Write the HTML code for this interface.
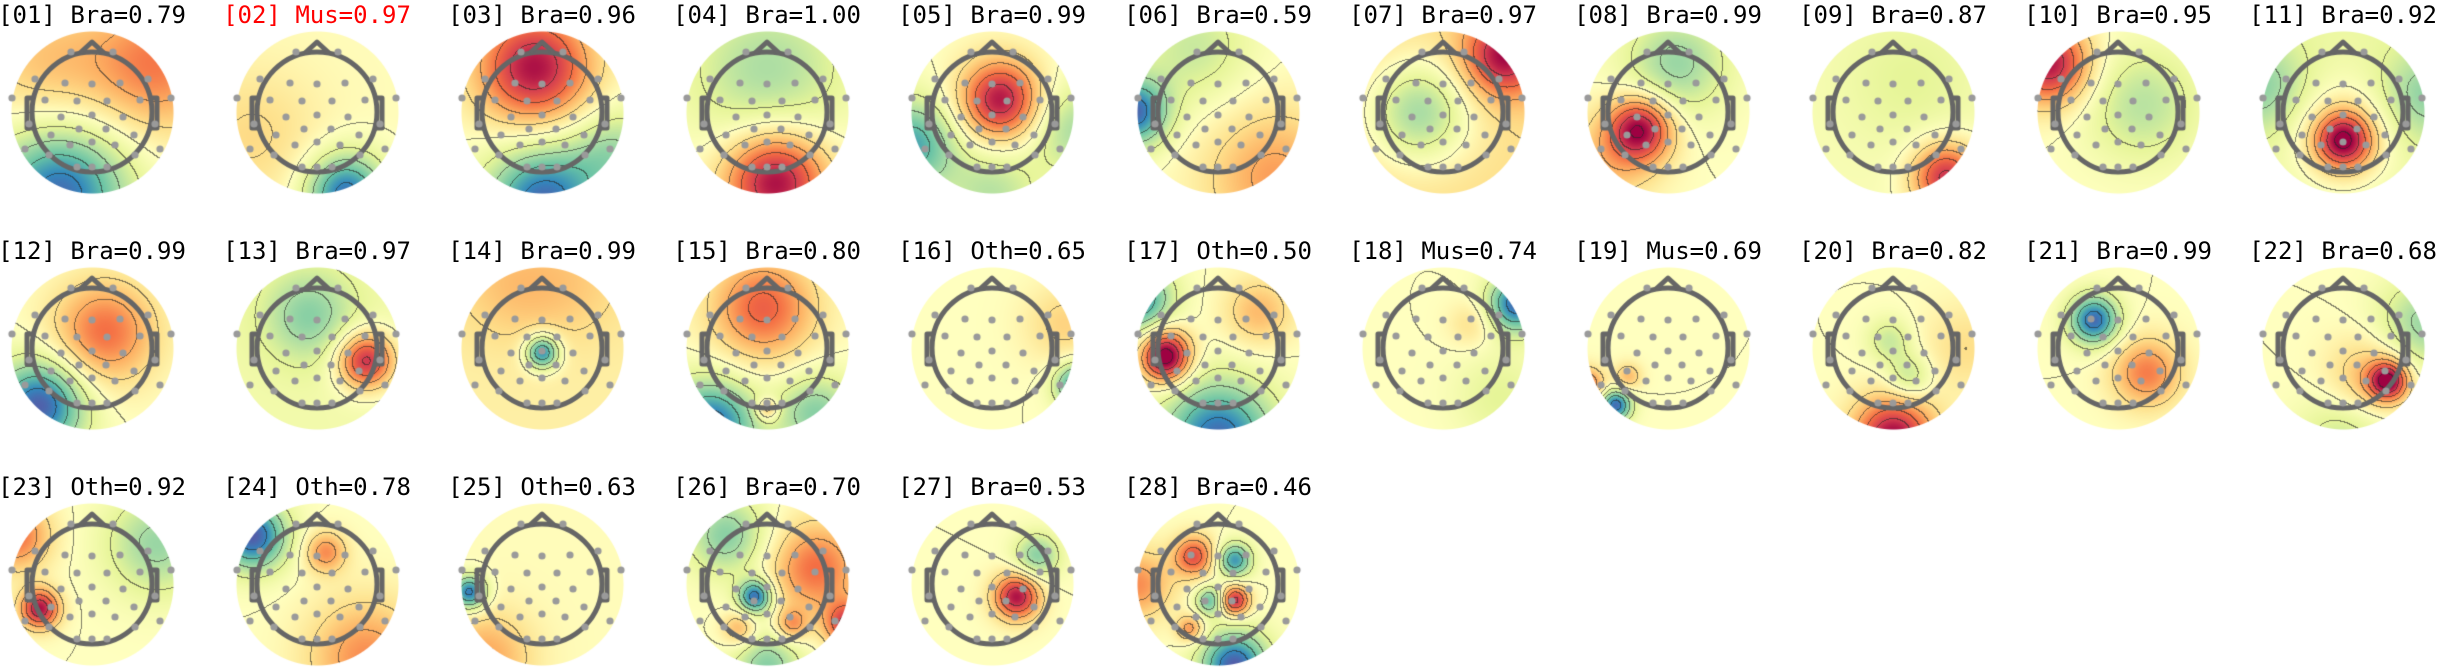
<!DOCTYPE html>
<html><head><meta charset="utf-8">
<style>
html,body{margin:0;padding:0;background:#fff;}
#wrap{position:relative;width:2438px;height:667px;overflow:hidden;}
canvas{position:absolute;left:0;top:0;}
.lbl{position:absolute;width:220px;text-align:center;font-family:"DejaVu Sans Mono","Liberation Mono",monospace;font-size:24px;line-height:24px;color:#000;white-space:pre;}
</style></head>
<body>
<div id="wrap">
<canvas id="cv" width="2438" height="667"></canvas>
</div>
<script>
// component ids, class labels, scores
const compIds = ["01","02","03","04","05","06","07","08","09","10","11","12","13","14","15","16","17","18","19","20","21","22","23","24","25","26","27","28"];
const compTypes = ["Bra","Mus","Bra","Bra","Bra","Bra","Bra","Bra","Bra","Bra","Bra","Bra","Bra","Bra","Bra","Oth","Oth","Mus","Mus","Bra","Bra","Bra","Oth","Oth","Oth","Bra","Bra","Bra"];
const compScores = ["0.79","0.97","0.96","1.00","0.99","0.59","0.97","0.99","0.87","0.95","0.92","0.99","0.97","0.99","0.80","0.65","0.50","0.74","0.69","0.82","0.99","0.68","0.92","0.78","0.63","0.70","0.53","0.46"];
const highlighted = ["02"];
// field sources per component: [x, y, spread, amplitude] in head-radius units
const baseLevels = [0,0.02,0,0,0,0,0.2,0,-0.05,0,-0.15,0,-0.1,0.1,0,0.0,0,0,0,0,0,0,0,0,0.02,0,0,0];
const fieldSources = [
 [[0.8,-0.6,0.6,0.55],[-0.4,1.0,0.6,-0.9],[-0.6,-0.6,0.6,0.3]],
 [[0.35,1.0,0.35,-0.9],[-0.8,0.3,0.6,0.2]],
 [[-0.1,-0.55,0.5,0.95],[0,1.1,0.5,-0.9],[0.9,0.5,0.4,-0.4]],
 [[0.1,0.85,0.45,1.0],[0,-0.5,0.7,-0.4]],
 [[0.1,-0.15,0.35,0.95],[-1.0,0.4,0.4,-0.7],[1.0,0.2,0.4,-0.4],[0,1.0,0.4,-0.35]],
 [[-1.05,0,0.3,-0.9],[0.7,0.8,0.6,0.45],[-0.3,-0.8,0.5,-0.3]],
 [[0.75,-0.7,0.35,0.8],[-0.3,0,0.45,-0.6]],
 [[-0.35,0.2,0.28,0.95],[0.1,-0.6,0.45,-0.45],[-0.7,0.6,0.4,0.3]],
 [[0.65,0.8,0.3,0.9],[0.2,-0.4,0.6,-0.15]],
 [[-0.85,-0.6,0.35,0.95],[0.3,-0.1,0.5,-0.35]],
 [[0,0.35,0.25,0.95],[0,0.25,0.5,0.3],[-1,-0.3,0.4,-0.35],[1,-0.2,0.4,-0.35]],
 [[0.15,-0.2,0.45,0.6],[-0.65,0.7,0.4,-0.95]],
 [[0.6,0.15,0.25,0.95],[-0.1,-0.4,0.4,-0.4]],
 [[0,0.05,0.15,-0.9],[-0.4,-0.8,0.5,0.2],[0.4,-0.8,0.5,0.15]],
 [[-0.05,-0.5,0.45,0.65],[-0.7,0.95,0.4,-0.9],[0.6,0.8,0.35,-0.5],[0,0.75,0.1,0.5]],
 [[1.05,0.45,0.2,-0.8],[0.9,-0.3,0.35,0.25]],
 [[-0.65,0.05,0.22,0.85],[-0.65,0.2,0.2,0.4],[0,1.1,0.5,-0.9],[-1,-0.6,0.3,-0.8],[0.5,-0.45,0.3,0.35]],
 [[0.9,-0.55,0.25,-0.9],[0.35,-0.3,0.2,0.2],[0.7,0.6,0.4,-0.2]],
 [[-0.65,0.7,0.14,-0.9],[-0.5,0.35,0.12,0.35],[-1,0.45,0.15,0.6]],
 [[0,1.1,0.35,1.0],[-0.05,-0.1,0.2,-0.3],[0.2,0.35,0.2,-0.35],[0.9,0,0.4,0.2]],
 [[-0.3,-0.35,0.22,-0.9],[0.35,0.3,0.3,0.55]],
 [[0.55,0.4,0.17,0.95],[0.3,0.35,0.35,0.35],[1,-0.3,0.4,-0.45],[0,1.1,0.4,-0.3]],
 [[-0.65,0.3,0.17,0.95],[-0.95,-0.6,0.3,0.6],[0.8,-0.5,0.45,-0.45]],
 [[-0.8,-0.6,0.3,-0.95],[0.1,-0.4,0.18,0.5],[0.6,0.9,0.5,0.5]],
 [[-0.9,0.1,0.15,-0.9],[-0.7,0.9,0.4,0.4]],
 [[0.6,-0.2,0.4,0.6],[1,0.5,0.2,0.8],[-0.15,0.15,0.15,-0.9],[-0.5,-0.6,0.35,-0.5],[0,1.0,0.3,-0.5],[-0.35,0.55,0.15,0.4],[0.3,0.5,0.14,0.45]],
 [[0.3,0.15,0.2,0.95],[0.55,-0.35,0.2,-0.5]],
 [[-0.3,-0.35,0.18,0.7],[0.2,-0.3,0.15,-0.75],[-0.1,0.2,0.13,-0.6],[0.2,0.2,0.13,0.9],[-0.35,0.55,0.12,0.5],[0.2,1.0,0.3,-0.95],[-1,0,0.3,0.5]]
];
// electrode layout (pixel offsets from head center)
const electrodes = [[-21,-60],[21,-60],
 [-57,-33],[-27,-29],[0,-28],[28,-29],[56,-33],
 [-80,-14],[-47,-12],[-15,-11],[15,-11],[48,-12],[79,-14],
 [-63,12],[-31,5],[0,3],[31,5],[63,12],
 [-41,23],[-13,17],[14,17],[42,23],
 [-67,37],[-43,43],[-22,33],[0,30],[23,33],[43,43],[68,37],
 [-15,55],[0,55],[15,55]];

const cmap = ["#5e4fa2","#3288bd","#66c2a5","#abdda4","#e6f598","#ffffbf","#fee08b","#fdae61","#f46d43","#d53e4f","#9e0142"].map(h=>[parseInt(h.substr(1,2),16),parseInt(h.substr(3,2),16),parseInt(h.substr(5,2),16)]);
function colorOf(v){
  let t=(Math.max(-1,Math.min(1,v))+1)/2*(cmap.length-1);
  let i=Math.min(cmap.length-2,Math.floor(t)),f=t-i;
  return [0,1,2].map(k=>cmap[i][k]+(cmap[i+1][k]-cmap[i][k])*f);
}
const COLS=11, X0=92, DX=225.1, ROWY=[112,348,584], R=81;
const cv=document.getElementById('cv'), ctx=cv.getContext('2d');
const wrap=document.getElementById('wrap');
const img=ctx.createImageData(2438,667);
for(let p=0;p<img.data.length;p+=4){img.data[p]=255;img.data[p+1]=255;img.data[p+2]=255;img.data[p+3]=255;}
const LEV=0.2;
function field(c,x,y){
  let v=baseLevels[c];
  for(const s of fieldSources[c]){const dx=x-s[0],dy=y-s[1];v+=s[3]*Math.exp(-(dx*dx+dy*dy)/(2*s[2]*s[2]));}
  return v;
}
const centers=[];
for(let c=0;c<compIds.length;c++){
  const cx=Math.round(X0+(c%COLS)*DX), cy=ROWY[Math.floor(c/COLS)];
  centers.push([cx,cy]);
  const N=2*R+3, vals=new Float32Array(N*N);
  for(let j=0;j<N;j++)for(let i=0;i<N;i++){vals[j*N+i]=field(c,(i-R-1)/R,(j-R-1)/R);}
  for(let j=0;j<N-1;j++)for(let i=0;i<N-1;i++){
    const px=i-R-1,py=j-R-1,d=Math.sqrt(px*px+py*py);
    if(d>R+0.5)continue;
    const a=Math.min(1,R+0.5-d);
    const v=vals[j*N+i];
    let col=colorOf(v);
    const l0=Math.floor(v/LEV),l1=Math.floor(vals[j*N+i+1]/LEV),l2=Math.floor(vals[(j+1)*N+i]/LEV);
    if(l0!==l1||l0!==l2){col=col.map(q=>q*0.4+40*0.6);}
    const X=cx+px,Y=cy+py; if(X<0||X>=2438||Y<0||Y>=667)continue;
    const o=(Y*2438+X)*4;
    for(let k=0;k<3;k++)img.data[o+k]=255*(1-a)+col[k]*a;
  }
}
ctx.putImageData(img,0,0);
ctx.strokeStyle="#666";ctx.lineWidth=5;ctx.lineJoin="round";
for(let c=0;c<centers.length;c++){
  const [cx,cy]=centers[c];
  ctx.beginPath();ctx.arc(cx,cy,60,0,Math.PI*2);ctx.stroke();
  ctx.beginPath();ctx.moveTo(cx-12,cy-59);ctx.lineTo(cx,cy-70);ctx.lineTo(cx+12,cy-59);ctx.stroke();
  for(const sgn of [-1,1]){
    ctx.beginPath();
    const x1=cx+sgn*59,x2=cx+sgn*65;
    ctx.moveTo(x1,cy-14);ctx.lineTo(x2,cy-14);ctx.lineTo(x2,cy+16);ctx.lineTo(x1,cy+16);ctx.stroke();
  }
  ctx.fillStyle="#9a9a9a";
  for(const e of electrodes){ctx.beginPath();ctx.arc(cx+e[0],cy+e[1],3.6,0,Math.PI*2);ctx.fill();}
  const d=document.createElement('div');
  d.className='lbl';
  
  
  d.style.left=(cx-110)+'px';d.style.top=(cy-109)+'px';
  if(highlighted.includes(compIds[c]))d.style.color='#ff0000';
  d.textContent='['+compIds[c]+'] '+compTypes[c]+'='+compScores[c];
  wrap.appendChild(d);
}
</script>
</body></html>
